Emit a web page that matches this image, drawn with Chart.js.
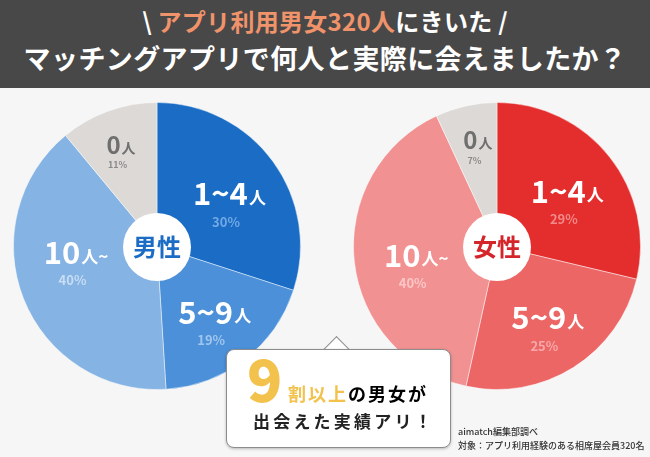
<!DOCTYPE html>
<html>
<head>
<meta charset="utf-8">
<script src="https://cdn.jsdelivr.net/npm/chart.js@4"></script>
<style>
  body { margin: 0; width: 650px; height: 457px; background: #f6f6f6; overflow: hidden; position: relative;
         font-family: "Noto Sans CJK JP", "Noto Sans", sans-serif; }
  .head { position: absolute; left: 0; top: 0; width: 650px; height: 88px; background: #484848; color: #fff; text-align: center; font-weight: 700; }
  .head .l1 { position: absolute; top: 4px; width: 100%; font-size: 24px; line-height: 34px; letter-spacing: 0.3px; }
  .head .l1 .or { color: #f0936b; }
  .head .l2 { position: absolute; top: 39px; width: 100%; font-size: 27px; line-height: 38px; letter-spacing: 0.4px; }
  canvas { position: absolute; }
  #male { left: 13px; top: 102px; }
  #female { left: 353px; top: 102px; }
  .box { position: absolute; left: 226px; top: 349px; width: 223px; height: 97px; background: #fff; border: 1.5px solid #8c8c8c;
         border-radius: 8px; box-shadow: 0 1px 3px rgba(0,0,0,0.25); }
  .tip { position: absolute; left: 327px; top: 340px; width: 18px; height: 18px; background: #fff; border-left: 1.5px solid #8c8c8c;
         border-top: 1.5px solid #8c8c8c; transform: rotate(45deg); }
  .box .nine { position: absolute; left: 20px; top: -8px; font-size: 58px; font-weight: 900; color: #f2c24c; line-height: 70px; }
  .box .t1 { position: absolute; left: 61px; top: 30px; font-size: 18px; font-weight: 700; letter-spacing: 2px; line-height: 26px; white-space: nowrap; }
  .box .t1 .y { color: #f2c24c; }
  .box .t2 { position: absolute; left: 26px; top: 58px; font-size: 17px; font-weight: 700; letter-spacing: 3.2px; line-height: 26px; white-space: nowrap; color: #222; }
  .src { position: absolute; left: 458px; font-size: 9px; color: #333; line-height: 12px; white-space: nowrap; font-weight: 500; }
</style>
</head>
<body>
<div class="head">
  <div class="l1">\ <span class="or">アプリ利用男女320人</span>にきいた /</div>
  <div class="l2">マッチングアプリで何人と実際に会えましたか？</div>
</div>
<canvas id="male" width="288" height="288"></canvas>
<canvas id="female" width="288" height="288"></canvas>
<div class="tip"></div>
<div class="box">
  <div class="nine">9</div>
  <div class="t1"><span class="y">割以上</span>の男女が</div>
  <div class="t2">出会えた実績アリ！</div>
</div>
<div class="src" style="top:426px">aimatch編集部調べ</div>
<div class="src" style="top:440px">対象：アプリ利用経験のある相席屋会員320名</div>
<script>
// 何人と会えたか
const categories = ['1~4人', '5~9人', '10人~', '0人'];
const maleValues = [30, 19, 40, 11];
const femaleValues = [29, 25, 40, 7];

const maleColors = ['#1a6cc4', '#4b90d9', '#85b3e3', '#ddd9d6'];
const malePctColors = ['#72a9e6', '#a0c6ee', '#c8ddf3', '#8a8a8a'];
const femaleColors = ['#e42d2d', '#ec6666', '#f29191', '#ddd9d6'];
const femalePctColors = ['#f28a8a', '#f7a9a9', '#fac6c6', '#8a8a8a'];

const font = '"Noto Sans CJK JP", sans-serif';

const pieLabels = {
  id: 'pieLabels',
  afterDraw(chart, args, opts) {
    const ctx = chart.ctx;
    const arcs = chart.getDatasetMeta(0).data;
    const vals = chart.data.datasets[0].data;
    ctx.save();
    ctx.textBaseline = 'middle';
    arcs.forEach((arc, i) => {
      const a = (arc.startAngle + arc.endAngle) / 2 + (opts.shift[i] || 0) * Math.PI / 180;
      const r = arc.outerRadius * opts.frac[i];
      const x = arc.x + Math.cos(a) * r;
      const y = arc.y + Math.sin(a) * r;
      const small = i === 3;
      const big = small ? 24 : 31;
      const unit = small ? 14 : 17;
      // 分割: 「人」以降は小さい文字
      const label = chart.data.labels[i];
      const k = label.indexOf('人');
      const p1 = label.slice(0, k), p2 = label.slice(k);
      ctx.font = `700 ${big}px ${font}`;
      const w1 = ctx.measureText(p1).width;
      ctx.font = `700 ${unit}px ${font}`;
      const w2 = ctx.measureText(p2).width;
      const x0 = x - (w1 + w2) / 2;
      ctx.fillStyle = small ? '#6f6f6f' : '#ffffff';
      ctx.textAlign = 'left';
      ctx.font = `700 ${big}px ${font}`;
      ctx.fillText(p1, x0, y);
      ctx.font = `700 ${unit}px ${font}`;
      ctx.fillText(p2, x0 + w1 + 1, y + big * 0.12);
      ctx.textAlign = 'center';
      ctx.fillStyle = opts.pct[i];
      ctx.font = `700 ${small ? 9 : 13}px ${font}`;
      ctx.fillText(vals[i] + '%', x - 3, y + (small ? 20 : 28));
    });
    // 中央の白丸
    const c = arcs[0];
    ctx.beginPath();
    ctx.arc(c.x, c.y + 1, 34, 0, Math.PI * 2);
    ctx.fillStyle = '#ffffff';
    ctx.fill();
    ctx.fillStyle = opts.centerColor;
    ctx.font = `700 24px ${font}`;
    ctx.textAlign = 'center';
    ctx.fillText(opts.center, c.x, c.y + 1);
    ctx.restore();
  }
};

function makePie(id, values, colors, pct, center, centerColor, shift) {
  new Chart(document.getElementById(id), {
    type: 'pie',
    data: {
      labels: categories,
      datasets: [{
        data: values,
        backgroundColor: colors,
        borderColor: 'rgba(255,255,255,0.45)',
        borderWidth: 1
      }]
    },
    options: {
      responsive: false,
      animation: false,
      layout: { padding: 0 },
      plugins: {
        legend: { display: false },
        tooltip: { enabled: false },
        pieLabels: { pct: pct, center: center, centerColor: centerColor, shift: shift, frac: [0.62, 0.61, 0.57, 0.75] }
      }
    },
    plugins: [pieLabels]
  });
}

makePie('male', maleValues, maleColors, malePctColors, '男性', '#1a6cc4', [0, -3, 17, 0]);
makePie('female', femaleValues, femaleColors, femalePctColors, '女性', '#d4262a', [0, -3, 0, 2]);
</script>
</body>
</html>
